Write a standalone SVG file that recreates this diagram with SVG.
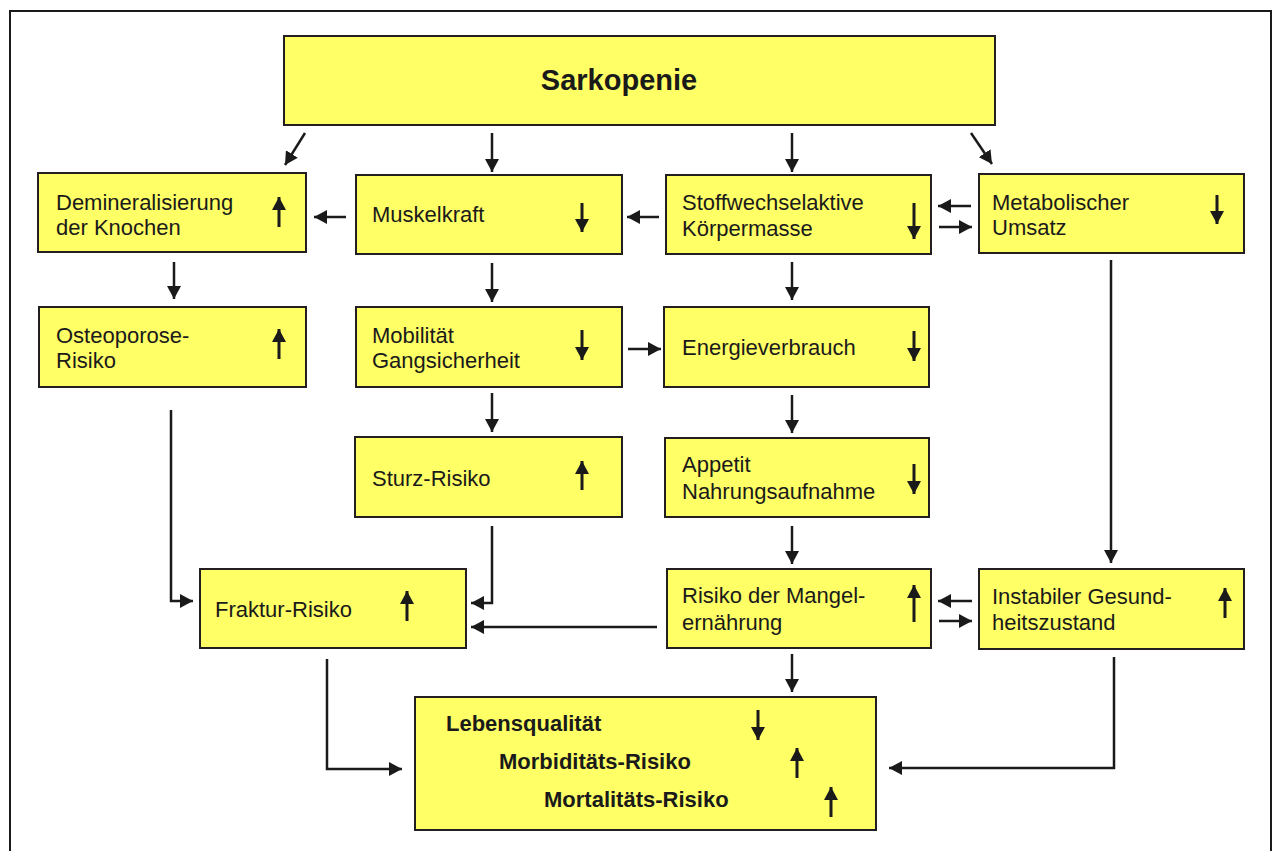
<svg xmlns="http://www.w3.org/2000/svg" width="1274" height="851" viewBox="0 0 1274 851">
  <style>
    .box { fill: #ffff66; stroke: #231f20; stroke-width: 2; }
    .lbl { font-family: "Liberation Sans", Arial, sans-serif; font-size: 22px; fill: #1a1a1a; }
    .big { font-family: "Liberation Sans", Arial, sans-serif; font-size: 29px; font-weight: bold; fill: #1a1a1a; }
    .bold { font-family: "Liberation Sans", Arial, sans-serif; font-size: 22px; font-weight: bold; fill: #1a1a1a; }
    .con { fill: none; stroke: #1a1a1a; stroke-width: 2.5; marker-end: url(#head); }
    .ind { fill: none; stroke: #1a1a1a; stroke-width: 3; marker-end: url(#head); }
  </style>
  <defs>
    <marker id="head" markerUnits="userSpaceOnUse" markerWidth="14" markerHeight="14" refX="13" refY="7" orient="auto">
      <path d="M0,0 L13,7 L0,14 z" fill="#1a1a1a"/>
    </marker>
  </defs>

  <rect width="1274" height="851" fill="#ffffff"/>
  <!-- outer frame -->
  <rect x="10" y="11" width="1261" height="860" fill="none" stroke="#1a1a1a" stroke-width="2"/>

  <!-- connectors -->
  <g id="connectors">
    <path class="con" d="M305,133 L285,165"/>
    <path class="con" d="M492,133 L492,172"/>
    <path class="con" d="M792,133 L792,172"/>
    <path class="con" d="M971,133 L992,164"/>
    <path class="con" d="M346,217 L314,217"/>
    <path class="con" d="M659,217 L627,217"/>
    <path class="con" d="M971,206 L938,206"/>
    <path class="con" d="M939,227 L972,227"/>
    <path class="con" d="M174,262 L174,299"/>
    <path class="con" d="M492,263 L492,302"/>
    <path class="con" d="M792,262 L792,300"/>
    <path class="con" d="M628,349 L661,349"/>
    <path class="con" d="M492,393 L492,432"/>
    <path class="con" d="M792,395 L792,433"/>
    <path class="con" d="M792,526 L792,564"/>
    <path class="con" d="M1111,260 L1111,563"/>
    <path class="con" d="M972,601 L938,601"/>
    <path class="con" d="M939,621 L972,621"/>
    <path class="con" d="M171,410 L171,601 L193,601"/>
    <path class="con" d="M492,526 L492,603 L471,603"/>
    <path class="con" d="M657,627 L471,627"/>
    <path class="con" d="M327,659 L327,769 L402,769"/>
    <path class="con" d="M792,654 L792,692"/>
    <path class="con" d="M1114,657 L1114,768 L889,768"/>
  </g>

  <!-- nodes -->
  <g id="n-sarkopenie">
    <rect class="box" x="284" y="36" width="711" height="89"/>
    <text class="big" x="619" y="90" text-anchor="middle">Sarkopenie</text>
  </g>
  <g id="n-demineralisierung">
    <rect class="box" x="38" y="173" width="268" height="79"/>
    <text class="lbl" x="56" y="210">Demineralisierung</text>
    <text class="lbl" x="56" y="235">der Knochen</text>
    <path class="ind" d="M279,227 L279,197"/>
  </g>
  <g id="n-muskelkraft">
    <rect class="box" x="356" y="175" width="266" height="79"/>
    <text class="lbl" x="372" y="222">Muskelkraft</text>
    <path class="ind" d="M582,203 L582,232"/>
  </g>
  <g id="n-koerpermasse">
    <rect class="box" x="666" y="175" width="265" height="79"/>
    <text class="lbl" x="682" y="210">Stoffwechselaktive</text>
    <text class="lbl" x="682" y="236">Körpermasse</text>
    <path class="ind" d="M914,203 L914,239"/>
  </g>
  <g id="n-umsatz">
    <rect class="box" x="979" y="174" width="265" height="79"/>
    <text class="lbl" x="992" y="210">Metabolischer</text>
    <text class="lbl" x="992" y="235">Umsatz</text>
    <path class="ind" d="M1217,195 L1217,224"/>
  </g>
  <g id="n-osteoporose">
    <rect class="box" x="39" y="307" width="267" height="80"/>
    <text class="lbl" x="56" y="343">Osteoporose-</text>
    <text class="lbl" x="56" y="368">Risiko</text>
    <path class="ind" d="M279,359 L279,329"/>
  </g>
  <g id="n-mobilitaet">
    <rect class="box" x="356" y="307" width="266" height="80"/>
    <text class="lbl" x="372" y="343">Mobilität</text>
    <text class="lbl" x="372" y="368">Gangsicherheit</text>
    <path class="ind" d="M582,330 L582,360"/>
  </g>
  <g id="n-energie">
    <rect class="box" x="664" y="307" width="265" height="80"/>
    <text class="lbl" x="682" y="355">Energieverbrauch</text>
    <path class="ind" d="M914,331 L914,361"/>
  </g>
  <g id="n-sturz">
    <rect class="box" x="355" y="437" width="267" height="80"/>
    <text class="lbl" x="372" y="486">Sturz-Risiko</text>
    <path class="ind" d="M582,490 L582,461"/>
  </g>
  <g id="n-appetit">
    <rect class="box" x="665" y="438" width="264" height="79"/>
    <text class="lbl" x="682" y="472">Appetit</text>
    <text class="lbl" x="682" y="499">Nahrungsaufnahme</text>
    <path class="ind" d="M914,464 L914,494"/>
  </g>
  <g id="n-fraktur">
    <rect class="box" x="200" y="569" width="266" height="79"/>
    <text class="lbl" x="215" y="617">Fraktur-Risiko</text>
    <path class="ind" d="M407,621 L407,591"/>
  </g>
  <g id="n-mangel">
    <rect class="box" x="667" y="569" width="264" height="79"/>
    <text class="lbl" x="682" y="603">Risiko der Mangel-</text>
    <text class="lbl" x="682" y="630">ernährung</text>
    <path class="ind" d="M914,622 L914,585"/>
  </g>
  <g id="n-gesundheit">
    <rect class="box" x="979" y="569" width="265" height="80"/>
    <text class="lbl" x="992" y="604">Instabiler Gesund-</text>
    <text class="lbl" x="992" y="630">heitszustand</text>
    <path class="ind" d="M1225,618 L1225,588"/>
  </g>
  <g id="n-folgen">
    <rect class="box" x="415" y="697" width="461" height="133"/>
    <text class="bold" x="446" y="731">Lebensqualität</text>
    <text class="bold" x="499" y="769">Morbiditäts-Risiko</text>
    <text class="bold" x="544" y="807">Mortalitäts-Risiko</text>
    <path class="ind" d="M758,710 L758,740"/>
    <path class="ind" d="M797,778 L797,748"/>
    <path class="ind" d="M831,817 L831,787"/>
  </g>
</svg>
